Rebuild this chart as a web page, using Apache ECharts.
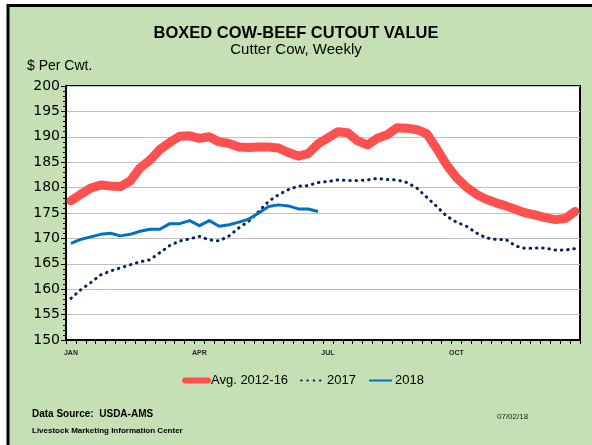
<!DOCTYPE html>
<html>
<head>
<meta charset="utf-8">
<script src="https://cdn.jsdelivr.net/npm/echarts@6/dist/echarts.min.js"></script>
<style>
  html, body { margin: 0; padding: 0; background: #fff; }
  #chart { width: 592px; height: 445px; }
</style>
</head>
<body>
<div id="chart"></div>
<script>
  // weekly values, $ per cwt
  const avg1216 = [177.4, 178.7, 179.9, 180.5, 180.3, 180.2, 181.3, 183.9, 185.4, 187.5,
    188.9, 190.1, 190.2, 189.7, 190.0, 189.0, 188.7, 188.0, 187.9, 188.0,
    188.0, 187.8, 186.9, 186.2, 186.7, 188.6, 189.8, 191.0, 190.8, 189.2,
    188.4, 189.7, 190.4, 191.8, 191.7, 191.4, 190.6, 187.7, 184.5, 182.0,
    180.1, 178.7, 177.7, 177.0, 176.4, 175.7, 175.0, 174.6, 174.1, 173.7,
    173.9, 175.3];
  const y2017 = [158.2, 159.9, 161.3, 162.8, 163.6, 164.2, 164.8, 165.4, 165.8, 167.2,
    168.6, 169.5, 169.9, 170.4, 169.7, 169.5, 170.5, 172.1, 173.4, 175.3,
    177.3, 178.6, 179.6, 180.3, 180.4, 181.0, 181.2, 181.5, 181.4, 181.4,
    181.5, 181.8, 181.6, 181.5, 181.0, 179.9, 178.1, 176.3, 174.4, 173.2,
    172.4, 171.1, 170.1, 169.8, 169.8, 168.5, 168.0, 168.1, 168.1, 167.7,
    167.7, 168.0];
  const y2018 = [169.0, 169.8, 170.3, 170.8, 171.0, 170.5, 170.8, 171.4, 171.8, 171.8,
    172.9, 172.9, 173.5, 172.5, 173.5, 172.4, 172.7, 173.2, 173.8, 175.0,
    176.3, 176.6, 176.4, 175.8, 175.8, 175.3];

  const monthLabels = ['JAN', 'APR', 'JUL', 'OCT'];
  const monthWeeks = [0, 13, 26, 39];
  const weekCount = 52;

  const weeks = [];
  for (let i = 0; i < weekCount; i++) {
    const k = monthWeeks.indexOf(i);
    weeks.push(k >= 0 ? monthLabels[k] : '');
  }

  const chart = echarts.init(document.getElementById('chart'));
  chart.setOption({
    animation: false,
    backgroundColor: '#fff',
    graphic: [
      {
        type: 'rect', z: -10, silent: true,
        shape: { x: 8, y: 5.5, width: 640, height: 500 },
        style: { fill: '#c5e0b4', stroke: '#000', lineWidth: 3 }
      },
      {
        type: 'text', left: 'center', top: 25,
        style: { text: 'BOXED COW-BEEF CUTOUT VALUE', fill: '#000',
          font: 'bold 16.5px "Liberation Sans", Arial, sans-serif' }
      },
      {
        type: 'text', left: 'center', top: 42,
        style: { text: 'Cutter Cow, Weekly', fill: '#000',
          font: '15px "Liberation Sans", Arial, sans-serif' }
      },
      {
        type: 'text', left: 27, top: 59,
        style: { text: '$ Per Cwt.', fill: '#000',
          font: '14px "Liberation Sans", Arial, sans-serif' }
      },
      {
        type: 'text', left: 32, top: 409,
        style: { text: 'Data Source:  USDA-AMS', fill: '#000',
          font: 'bold 10px "Liberation Sans", Arial, sans-serif' }
      },
      {
        type: 'text', left: 32, top: 427,
        style: { text: 'Livestock Marketing Information Center', fill: '#000',
          font: 'bold 8px "Liberation Sans", Arial, sans-serif' }
      },
      {
        type: 'text', left: 497, top: 413,
        style: { text: '07/02/18', fill: '#222',
          font: '8px "Liberation Sans", Arial, sans-serif' }
      }
    ],
    grid: {
      left: 66, right: 12, top: 86, bottom: 105,
      show: true, backgroundColor: '#fff', borderColor: '#000', borderWidth: 2
    },
    legend: {
      left: 177, top: 369,
      itemWidth: 23, itemHeight: 14, itemGap: 12,
      itemStyle: { opacity: 0 },
      textStyle: { fontSize: 13, color: '#000', fontFamily: 'Liberation Sans', padding: [0, 0, 0, -2] },
      data: [
        { name: 'Avg. 2012-16', lineStyle: { width: 6 } },
        { name: '2017' },
        { name: '2018' }
      ]
    },
    xAxis: {
      type: 'category',
      data: weeks,
      boundaryGap: true,
      axisLine: { lineStyle: { color: '#000', width: 2 } },
      axisTick: { show: true, interval: 0, length: 4, lineStyle: { color: '#000' } },
      axisLabel: {
        interval: 0, margin: 10, color: '#262626',
        fontSize: 7, fontWeight: 'bold', fontFamily: 'Liberation Sans'
      },
      splitLine: { show: false }
    },
    yAxis: {
      type: 'value',
      min: 150, max: 200, interval: 5,
      axisLine: { show: true, lineStyle: { color: '#000', width: 2 } },
      axisTick: { show: true, length: 5, lineStyle: { color: '#000' } },
      minorTick: { show: true, splitNumber: 5, length: 3, lineStyle: { color: '#000' } },
      axisLabel: { margin: 6, color: '#000', fontSize: 14, fontFamily: 'DejaVu Sans' },
      splitLine: { lineStyle: { color: '#c0c0c0', width: 1 } }
    },
    series: [
      {
        name: 'Avg. 2012-16', type: 'line', data: avg1216,
        symbol: 'none', z: 3,
        lineStyle: { color: '#ff5050', width: 9, cap: 'round', join: 'round' },
        itemStyle: { color: '#ff5050' }
      },
      {
        name: '2017', type: 'line', data: y2017,
        symbol: 'none', z: 2,
        lineStyle: { color: '#002060', width: 3, type: [0.5, 5.8], cap: 'round', join: 'round' },
        itemStyle: { color: '#002060' }
      },
      {
        name: '2018', type: 'line', data: y2018,
        symbol: 'none', z: 4,
        lineStyle: { color: '#0070c0', width: 3, join: 'round' },
        itemStyle: { color: '#0070c0' }
      }
    ]
  });
</script>
</body>
</html>
